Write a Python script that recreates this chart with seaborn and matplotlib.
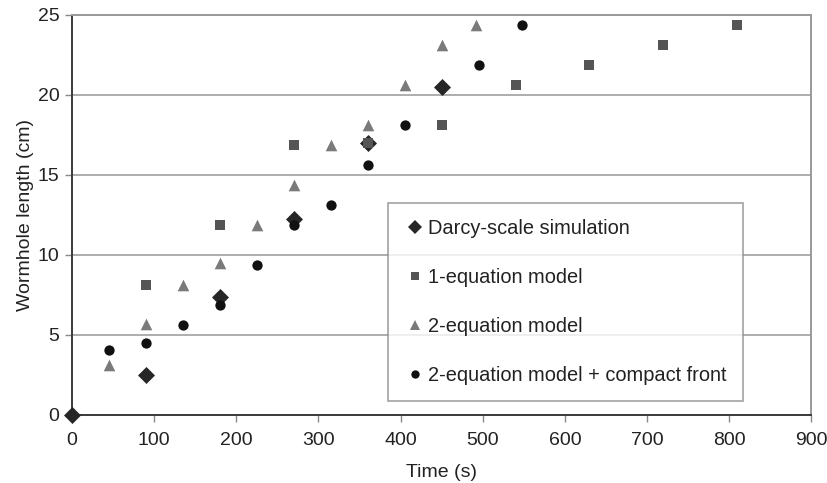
import matplotlib
matplotlib.use("Agg")
import matplotlib.pyplot as plt
import seaborn as sns
import pandas as pd
from matplotlib.lines import Line2D

sns.set_theme(style="white")
plt.rcParams["font.family"] = ["Liberation Sans", "DejaVu Sans"]

# Wormhole length (cm) versus time (s) for each model
darcy_t = [0, 90, 180, 270, 360, 450]
darcy_l = [0.0, 2.5, 7.35, 12.25, 17.0, 20.5]

eq1_t = [90, 180, 270, 360, 450, 540, 630, 720, 810]
eq1_l = [8.1, 11.9, 16.9, 17.0, 18.1, 20.6, 21.9, 23.1, 24.4]

eq2_t = [45, 90, 135, 180, 225, 270, 315, 360, 405, 450, 492]
eq2_l = [3.15, 5.7, 8.15, 9.5, 11.9, 14.4, 16.9, 18.1, 20.6, 23.1, 24.4]

cf_t = [45, 90, 135, 180, 225, 270, 315, 360, 405, 496, 548]
cf_l = [4.05, 4.5, 5.65, 6.9, 9.4, 11.9, 13.1, 15.6, 18.1, 21.9, 24.4]

labels = ["Darcy-scale simulation", "1-equation model", "2-equation model",
          "2-equation model + compact front"]

series = [
    (darcy_t, darcy_l, labels[0], "D", "#262626", 75),
    (eq1_t, eq1_l, labels[1], "s", "#555555", 55),
    (eq2_t, eq2_l, labels[2], "^", "#7a7a7a", 70),
    (cf_t, cf_l, labels[3], "o", "#111111", 55),
]

fig = plt.figure(figsize=(8.27, 4.83), dpi=100)
ax = fig.add_axes([0.087, 0.141, 0.894, 0.828])

for t, l, name, mk, col, sz in series:
    df = pd.DataFrame({"Time (s)": t, "Wormhole length (cm)": l})
    sns.scatterplot(data=df, x="Time (s)", y="Wormhole length (cm)", ax=ax,
                    marker=mk, color=col, s=sz, linewidth=0, zorder=3,
                    legend=False, clip_on=False)

ax.set_xlim(0, 900)
ax.set_ylim(0, 25)
ax.set_xticks(range(0, 901, 100))
ax.set_yticks(range(0, 26, 5))
ax.yaxis.grid(True, color="#a0a0a0", linewidth=1.2)
ax.set_axisbelow(True)

for side in ["top", "right"]:
    ax.spines[side].set_color("#9a9a9a")
    ax.spines[side].set_linewidth(1.4)
for side in ["left", "bottom"]:
    ax.spines[side].set_color("#3a3a3a")
    ax.spines[side].set_linewidth(1.4)

ax.tick_params(axis="both", which="major", labelsize=14, colors="#222222",
               length=5, width=1.0, direction="out", bottom=True, left=True)
ax.tick_params(axis="x", colors="#888888", labelcolor="#222222", pad=7)
ax.tick_params(axis="y", colors="#888888", labelcolor="#222222", pad=4)
ax.set_xlabel("Time (s)", fontsize=14, color="#222222", labelpad=11)
ax.set_ylabel("Wormhole length (cm)", fontsize=14, color="#222222", labelpad=3)

handles = [Line2D([], [], linestyle="none", marker=mk, color=col,
                  markersize=ms, markeredgewidth=0)
           for (_, _, _, mk, col, _), ms in zip(series, [7.5, 6, 6.5, 6])]
leg = ax.legend(handles, labels, loc="upper left",
                bbox_to_anchor=(0.4276, 0.531), frameon=True, fancybox=False,
                fontsize=14.4, labelspacing=1.5, handlelength=1.1,
                handletextpad=0.1, borderpad=0.8, borderaxespad=0)
leg.get_frame().set_edgecolor("#8a8a8a")
leg.get_frame().set_linewidth(1.2)
for txt in leg.get_texts():
    txt.set_color("#222222")

fig.savefig("out.png", dpi=100)
